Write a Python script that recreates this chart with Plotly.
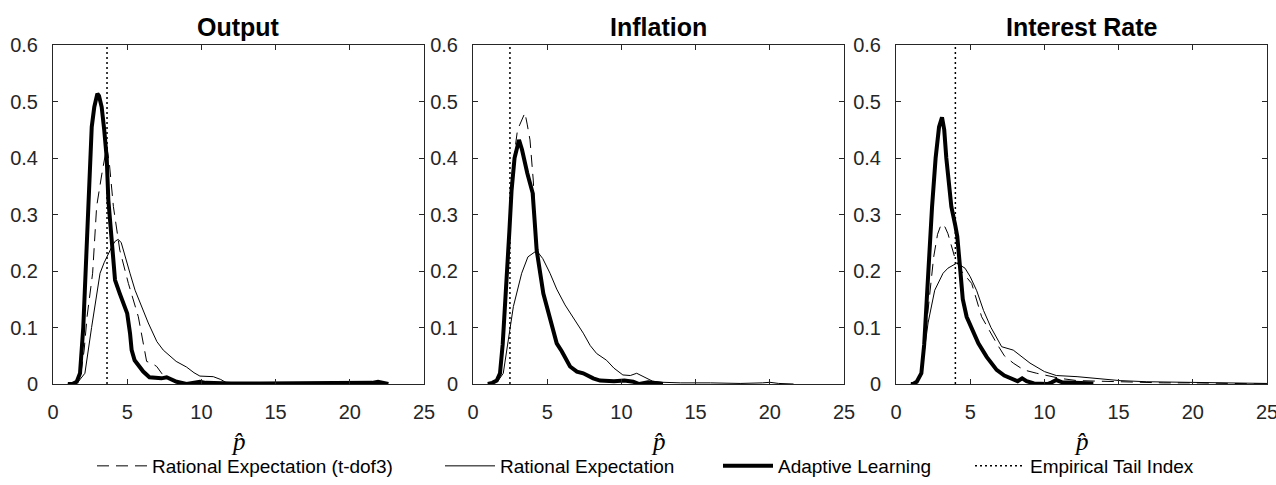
import plotly.graph_objects as go

W, H = 1276, 485

panel_titles = ["Output", "Inflation", "Interest Rate"]
series_names = ["Rational Expectation (t-dof3)", "Rational Expectation", "Adaptive Learning", "Empirical Tail Index"]
x_ticks = [0, 5, 10, 15, 20, 25]
y_ticks = [0, 0.1, 0.2, 0.3, 0.4, 0.5, 0.6]

# ---------------- Output ----------------
out_tdof3_x = [1.0, 1.3, 1.6, 1.88, 2.1, 2.3, 2.67, 2.94, 3.28, 3.5, 3.62, 3.8, 4.07, 4.5, 5.08, 5.75, 6.2, 6.31, 6.7, 6.99, 7.32, 7.5]
out_tdof3_y = [0, 0, 0.003, 0.019, 0.06, 0.12, 0.196, 0.314, 0.37, 0.405, 0.42, 0.39, 0.314, 0.237, 0.178, 0.119, 0.06, 0.04, 0.036, 0.031, 0.019, 0.012]
out_re_x = [1.0, 1.3, 1.7, 2.15, 2.6, 2.9, 3.17, 3.45, 3.73, 4.0, 4.2, 4.4, 4.6, 4.85, 5.2, 5.53, 6.0, 6.42, 7.0, 7.43, 8.3, 9.0, 9.5, 9.9, 10.8, 11.3, 11.7, 12.5, 14.0, 16.0]
out_re_y = [0, 0, 0.004, 0.019, 0.1, 0.15, 0.196, 0.215, 0.231, 0.245, 0.253, 0.256, 0.25, 0.225, 0.195, 0.166, 0.135, 0.108, 0.075, 0.06, 0.04, 0.03, 0.02, 0.014, 0.013, 0.008, 0.002, 0.001, 0.001, 0]
out_al_x = [1.0, 1.3, 1.6, 1.82, 2.04, 2.2, 2.38, 2.49, 2.61, 2.78, 2.99, 3.1, 3.28, 3.45, 3.62, 3.73, 3.95, 4.18, 4.5, 4.74, 5.0, 5.19, 5.3, 5.5, 5.8, 6.08, 6.5, 7.0, 7.3, 7.66, 8.0, 8.33, 9.0, 9.4, 9.9, 10.3, 11.0, 12.0, 14.0, 16.0, 18.0, 20.0, 21.5, 21.9, 22.3, 22.6]
out_al_y = [0, 0, 0.004, 0.019, 0.1, 0.196, 0.314, 0.40, 0.455, 0.49, 0.514, 0.51, 0.49, 0.45, 0.40, 0.326, 0.25, 0.184, 0.16, 0.145, 0.125, 0.09, 0.06, 0.042, 0.03, 0.022, 0.012, 0.01, 0.01, 0.012, 0.008, 0.004, 0.0, 0.002, 0.004, 0.002, 0.001, 0.001, 0.001, 0.001, 0.001, 0.001, 0.002, 0.004, 0.002, 0.0]

# ---------------- Inflation ----------------
inf_tdof3_x = [1.0, 1.3, 1.6, 1.82, 2.0, 2.15, 2.31, 2.45, 2.6, 2.8, 3.0, 3.17, 3.5, 3.65, 3.84, 4.06, 4.2, 4.29, 4.74, 5.19, 5.64, 5.98, 6.54, 7.0, 7.43, 8.1, 8.56, 9.5, 10.2, 10.8, 11.2, 11.8, 12.3, 12.8]
inf_tdof3_y = [0, 0.002, 0.006, 0.019, 0.07, 0.13, 0.2, 0.28, 0.35, 0.41, 0.45, 0.46, 0.48, 0.46, 0.432, 0.361, 0.3, 0.24, 0.16, 0.115, 0.07, 0.058, 0.03, 0.022, 0.018, 0.01, 0.006, 0.005, 0.005, 0.004, 0.001, 0.003, 0.002, 0.0]
inf_re_x = [1.0, 1.3, 1.7, 2.04, 2.38, 2.72, 3.28, 3.7, 4.29, 4.7, 5.19, 5.64, 6.2, 6.76, 7.43, 7.9, 8.33, 9.0, 9.5, 10.1, 10.6, 11.03, 11.5, 12.1, 12.8, 14.0, 16.0, 18.0, 19.5, 20.0, 20.6, 21.6]
inf_re_y = [0, 0.001, 0.006, 0.019, 0.078, 0.137, 0.196, 0.225, 0.236, 0.222, 0.196, 0.168, 0.14, 0.117, 0.09, 0.068, 0.054, 0.042, 0.028, 0.016, 0.015, 0.019, 0.013, 0.005, 0.003, 0.002, 0.002, 0.001, 0.002, 0.003, 0.001, 0]
inf_al_x = [1.0, 1.3, 1.6, 1.82, 2.0, 2.15, 2.31, 2.45, 2.6, 2.8, 3.1, 3.3, 3.66, 4.02, 4.15, 4.29, 4.74, 5.19, 5.64, 5.98, 6.54, 7.0, 7.43, 8.1, 8.56, 9.5, 10.2, 10.8, 11.2, 11.8, 12.3, 12.8]
inf_al_y = [0, 0.002, 0.006, 0.019, 0.07, 0.13, 0.196, 0.27, 0.343, 0.40, 0.432, 0.415, 0.373, 0.338, 0.29, 0.237, 0.16, 0.115, 0.072, 0.058, 0.031, 0.022, 0.019, 0.01, 0.006, 0.005, 0.006, 0.004, 0.0, 0.003, 0.002, 0.0]

# ---------------- Interest Rate ----------------
ir_tdof3_x = [1.0, 1.4, 1.71, 1.95, 2.16, 2.54, 2.8, 3.05, 3.3, 3.5, 3.95, 4.4, 5.1, 5.77, 6.78, 7.3, 7.9, 8.6, 9.48, 10.4, 11.05, 12.2, 14.4, 16.0, 18.0, 20.0, 22.0, 25.0]
ir_tdof3_y = [0, 0.004, 0.019, 0.08, 0.137, 0.225, 0.265, 0.283, 0.278, 0.266, 0.225, 0.2, 0.178, 0.119, 0.072, 0.05, 0.037, 0.025, 0.019, 0.013, 0.01, 0.006, 0.004, 0.003, 0.002, 0.002, 0.001, 0.0]
ir_re_x = [1.0, 1.4, 1.71, 2.16, 2.61, 3.17, 3.5, 4.1, 4.65, 5.0, 5.44, 5.9, 6.4, 7.12, 7.9, 8.4, 9.03, 10.0, 10.8, 12.2, 13.7, 15.1, 16.9, 20.0, 22.0, 24.5, 25.0]
ir_re_y = [0, 0.004, 0.019, 0.108, 0.166, 0.196, 0.205, 0.214, 0.205, 0.19, 0.165, 0.13, 0.1, 0.066, 0.06, 0.05, 0.037, 0.022, 0.015, 0.013, 0.01, 0.006, 0.004, 0.003, 0.002, 0.001, 0.001]
ir_al_x = [1.0, 1.15, 1.4, 1.71, 1.9, 2.04, 2.25, 2.43, 2.67, 2.9, 3.1, 3.25, 3.39, 3.55, 3.73, 4.0, 4.13, 4.31, 4.5, 4.76, 5.1, 5.55, 6.11, 6.78, 7.3, 7.9, 8.2, 8.5, 8.8, 9.3, 10.2, 10.5, 10.8, 11.2, 12.0, 13.3]
ir_al_y = [0, 0, 0.004, 0.019, 0.07, 0.137, 0.23, 0.314, 0.40, 0.455, 0.472, 0.45, 0.40, 0.35, 0.314, 0.28, 0.261, 0.208, 0.15, 0.119, 0.1, 0.072, 0.048, 0.025, 0.015, 0.008, 0.005, 0.01, 0.005, 0.001, 0.0, 0.003, 0.007, 0.003, 0.002, 0.001]

tail_index = [3.64, 2.49, 4.0]

panels = [
    (out_tdof3_x, out_tdof3_y, out_re_x, out_re_y, out_al_x, out_al_y),
    (inf_tdof3_x, inf_tdof3_y, inf_re_x, inf_re_y, inf_al_x, inf_al_y),
    (ir_tdof3_x, ir_tdof3_y, ir_re_x, ir_re_y, ir_al_x, ir_al_y),
]

# pixel layout of plot areas
px_left = [53, 473, 896]
px_width = 371
px_top, px_bottom = 45, 384
legend_px = [92, 440, 718, 970]   # left edge of each legend entry

AX = "#262626"
FONT = "Liberation Sans, Arial, sans-serif"
legend_ids = ["legend", "legend2", "legend3", "legend4"]

fig = go.Figure()
layout = {}
annotations = []
for i, (tx, ty, rx, ry, ax_, ay_) in enumerate(panels):
    n = "" if i == 0 else str(i + 1)
    xa, ya = "x" + n, "y" + n
    show = i == 0
    fig.add_trace(go.Scatter(x=tx, y=ty, xaxis=xa, yaxis=ya, mode="lines", name=series_names[0],
                             legend=legend_ids[0], showlegend=show,
                             line=dict(color="black", width=1, dash="12px,7px")))
    fig.add_trace(go.Scatter(x=rx, y=ry, xaxis=xa, yaxis=ya, mode="lines", name=series_names[1],
                             legend=legend_ids[1], showlegend=show,
                             line=dict(color="black", width=1)))
    fig.add_trace(go.Scatter(x=ax_, y=ay_, xaxis=xa, yaxis=ya, mode="lines", name=series_names[2],
                             legend=legend_ids[2], showlegend=show,
                             line=dict(color="black", width=4)))
    fig.add_trace(go.Scatter(x=[tail_index[i], tail_index[i]], y=[y_ticks[0], y_ticks[-1]], xaxis=xa, yaxis=ya,
                             mode="lines", name=series_names[3], legend=legend_ids[3], showlegend=show,
                             line=dict(color="black", width=1.5, dash="2px,3px")))
    x0 = px_left[i] / W
    x1 = (px_left[i] + px_width) / W
    common = dict(showline=True, linecolor=AX, linewidth=1, mirror="ticks", ticks="inside",
                  ticklen=5, tickcolor=AX, showgrid=False, zeroline=False, automargin=False,
                  ticklabeloverflow="allow",
                  tickfont=dict(family=FONT, size=20, color=AX))
    layout["xaxis" + n] = dict(domain=[x0, x1], range=[x_ticks[0], x_ticks[-1]], tickvals=x_ticks,
                               anchor=ya, ticklabelstandoff=10, **common)
    layout["yaxis" + n] = dict(domain=[1 - px_bottom / H, 1 - px_top / H], range=[y_ticks[0], y_ticks[-1]],
                               tickvals=y_ticks, anchor=xa, ticklabelstandoff=10, **common)
    annotations.append(dict(text="<b>" + panel_titles[i] + "</b>", xref=xa + " domain", yref=ya + " domain",
                            x=0.5, y=1, yanchor="bottom", yshift=2, showarrow=False,
                            font=dict(family=FONT, size=25, color="black")))
    annotations.append(dict(text="<i>p̂</i>", xref=xa + " domain", yref=ya + " domain",
                            x=0.5, y=0, yanchor="top", yshift=-42, showarrow=False,
                            font=dict(family="Liberation Serif, DejaVu Serif, serif", size=25, color="black")))

for k, lid in enumerate(legend_ids):
    layout[lid] = dict(orientation="h", x=legend_px[k] / W, xanchor="left", y=0.0, yanchor="bottom",
                       font=dict(family=FONT, size=19, color="black"), itemwidth=50,
                       bgcolor="rgba(0,0,0,0)", borderwidth=0)

fig.update_layout(**layout)
fig.update_layout(
    width=W, height=H,
    margin=dict(l=0, r=0, t=0, b=0, autoexpand=False),
    paper_bgcolor="white", plot_bgcolor="white",
    annotations=annotations,
    showlegend=True,
)

fig.write_html("out.html")
